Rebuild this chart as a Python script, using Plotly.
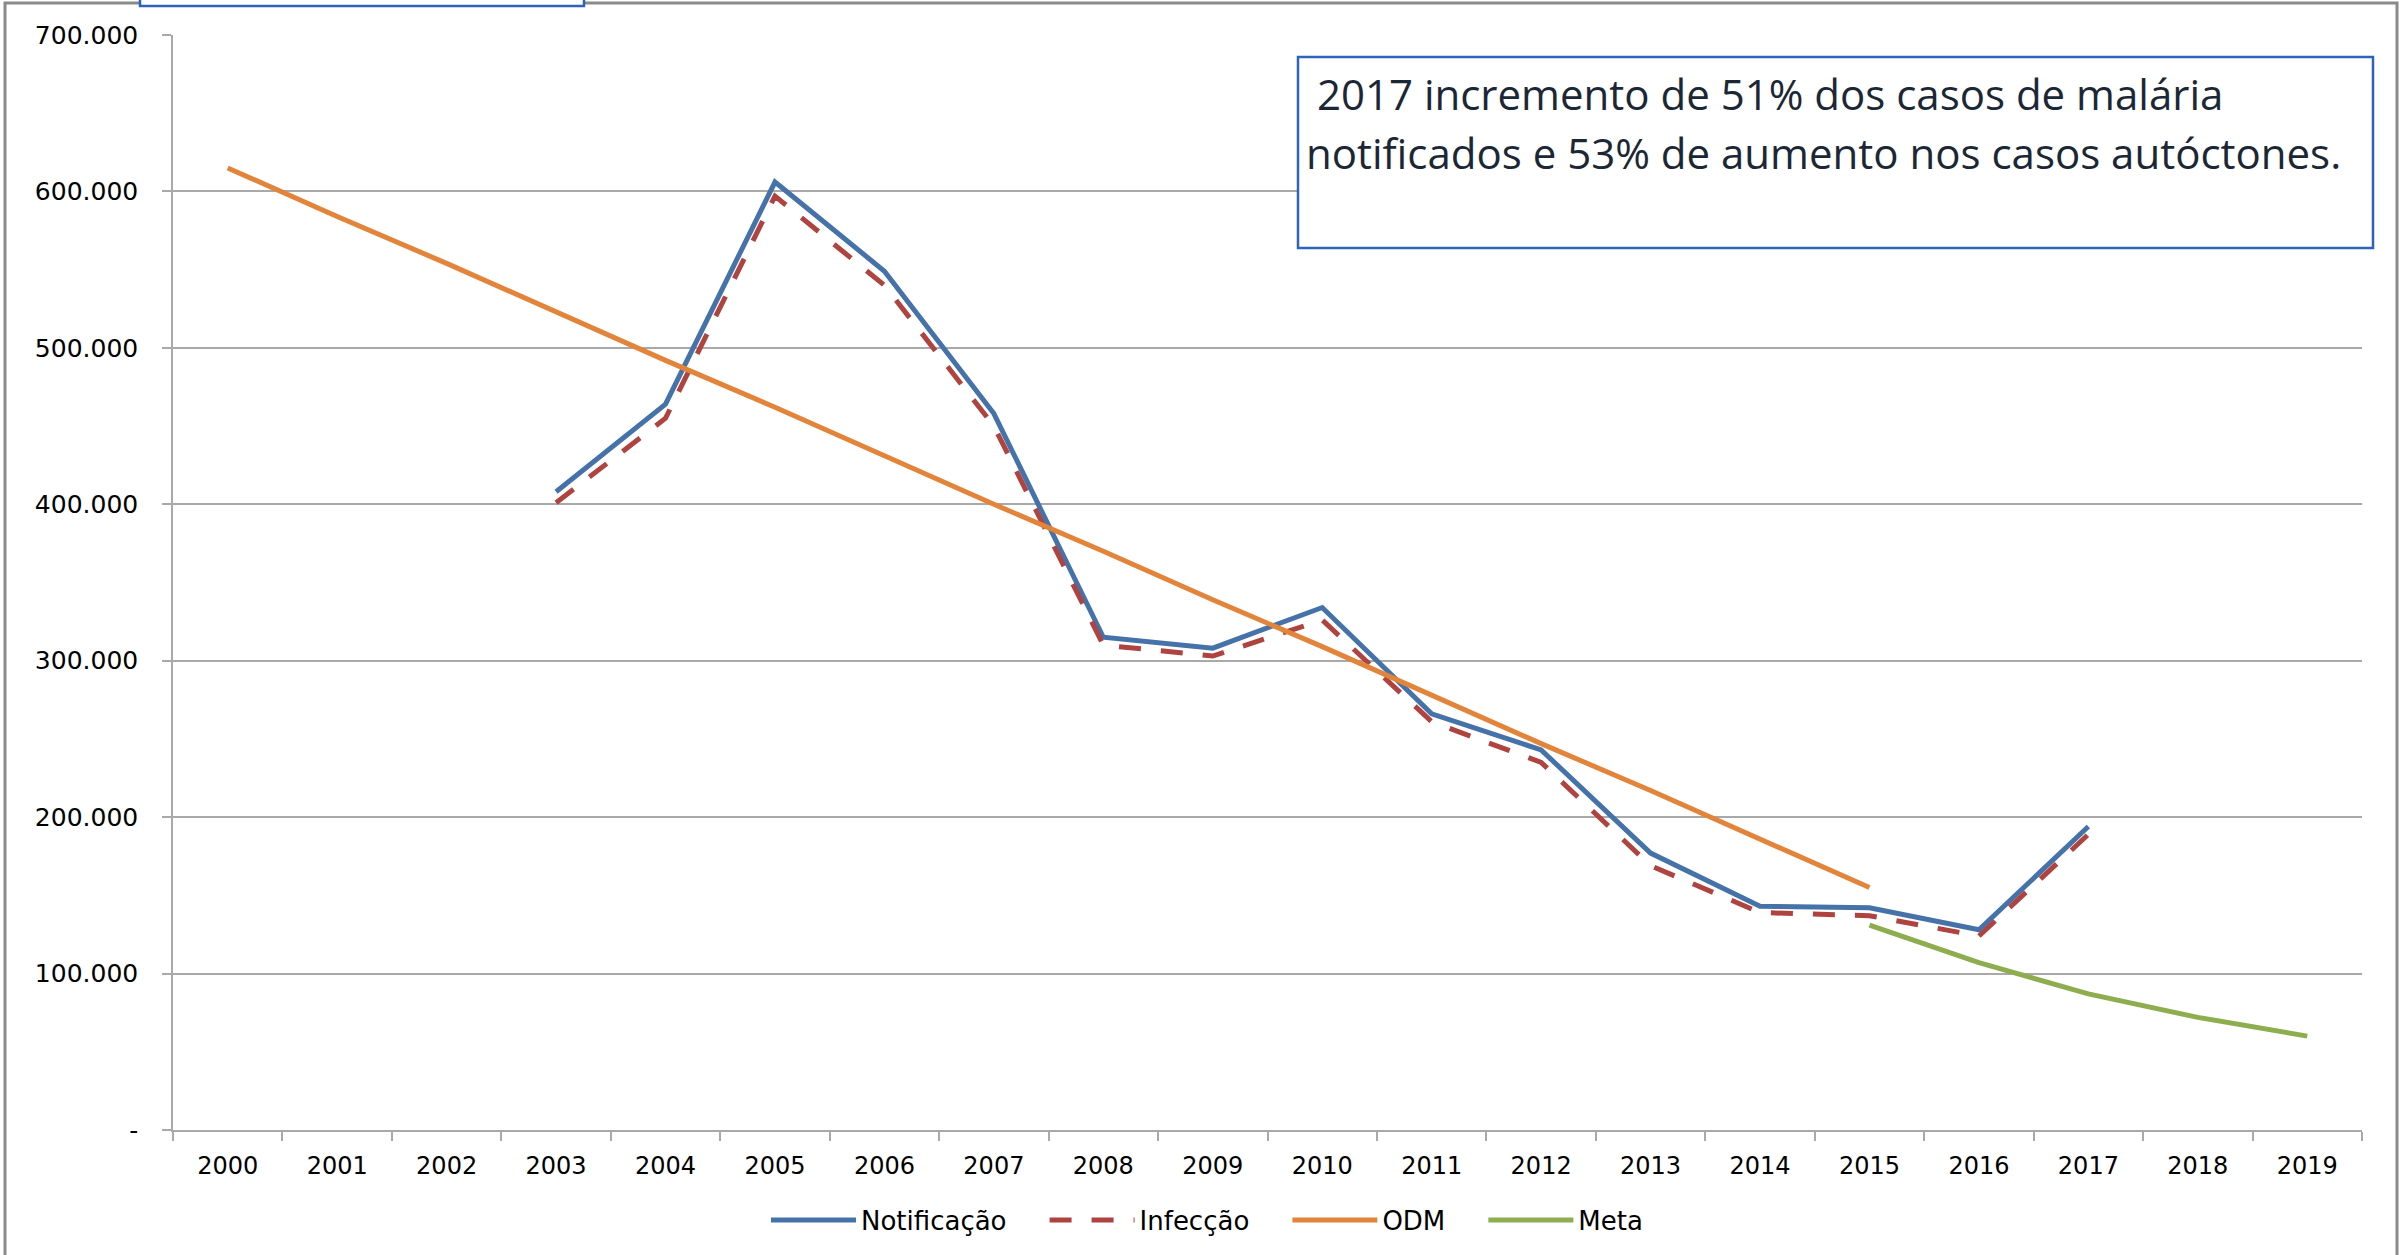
import plotly.graph_objects as go

# ---------------- data ----------------
years = ["2000", "2001", "2002", "2003", "2004", "2005", "2006", "2007", "2008", "2009",
         "2010", "2011", "2012", "2013", "2014", "2015", "2016", "2017", "2018", "2019"]

notificacao = [None, None, None, 408000, 464000, 606000, 549000, 458000, 315000, 308000,
               334000, 266000, 243000, 177000, 143000, 142000, 128000, 194000, None, None]

infeccao = [None, None, None, 401000, 455000, 597000, 540000, 450000, 310000, 303000,
            326000, 261000, 235000, 169000, 139000, 137000, 124000, 189000, None, None]

odm = [615000, 584000, 554000, 523000, 492000, 462000, 431000, 400000, 370000, 339000,
       309000, 278000, 247000, 217000, 186000, 155000, None, None, None, None]

meta = [None, None, None, None, None, None, None, None, None, None,
        None, None, None, None, None, 131000, 107000, 87000, 72000, 60000]

series_names = ["Notificação", "Infecção", "ODM", "Meta"]

y_tickvals = [0, 100000, 200000, 300000, 400000, 500000, 600000, 700000]
y_ticktext = ["-", "100.000", "200.000", "300.000", "400.000", "500.000", "600.000", "700.000"]

note_line1 = " 2017 incremento de 51% dos casos de malária"
note_line2 = "notificados e 53% de aumento nos casos autóctones."

# ---------------- layout geometry (pixels) ----------------
W, H = 2405, 1255
PL, PR, PT, PB = 173, 2362, 35, 1130   # plot area edges


def px_x(x):
    return (x - PL) / (PR - PL)


def px_y(y):
    return (PB - y) / (PB - PT)


BLUE = "#4572A9"
RED = "#AE4340"
ORANGE = "#E3843B"
GREEN = "#8DAD4F"
GRID = "#A9A9A9"
PAD = "\u00a0\u00a0\u00a0\u00a0"

fig = go.Figure()
fig.add_trace(go.Scatter(x=years, y=notificacao, name=series_names[0] + PAD, mode="lines",
                         line=dict(color=BLUE, width=5), connectgaps=False))
fig.add_trace(go.Scatter(x=years, y=infeccao, name=series_names[1] + PAD, mode="lines",
                         line=dict(color=RED, width=5, dash="22px,20px"), connectgaps=False))
fig.add_trace(go.Scatter(x=years, y=odm, name=series_names[2] + PAD, mode="lines",
                         line=dict(color=ORANGE, width=5), connectgaps=False))
fig.add_trace(go.Scatter(x=years, y=meta, name=series_names[3], mode="lines",
                         line=dict(color=GREEN, width=5), connectgaps=False))

fig.update_layout(
    width=W, height=H,
    margin=dict(l=PL, r=W - PR, t=PT, b=H - PB),
    paper_bgcolor="white", plot_bgcolor="white",
    font=dict(family="DejaVu Sans", size=24, color="black"),
    showlegend=True,
    legend=dict(orientation="h", x=px_x(1207), xanchor="center",
                y=px_y(1220), yanchor="middle",
                font=dict(family="DejaVu Sans", size=26, color="black"),
                itemwidth=85, bgcolor="rgba(0,0,0,0)"),
    xaxis=dict(type="category", categoryorder="array", categoryarray=years,
               tickson="boundaries", ticks="outside", ticklen=9, tickwidth=1.5,
               tickcolor=GRID, showline=True, linecolor=GRID, linewidth=1.5,
               showgrid=False, zeroline=False, ticklabelstandoff=13,
               tickfont=dict(family="DejaVu Sans", size=24, color="black"),
               range=[-0.5, 19.5], fixedrange=True),
    yaxis=dict(range=[0, 700000], tickvals=y_tickvals, ticktext=y_ticktext,
               ticks="outside", ticklen=9, tickwidth=1.5, tickcolor=GRID,
               showline=True, linecolor=GRID, linewidth=1.5,
               showgrid=True, gridcolor=GRID, gridwidth=1.5, zeroline=False,
               ticklabelstandoff=19,
               tickfont=dict(family="DejaVu Sans", size=25, color="black"),
               fixedrange=True),
)

shapes = []
# outer chart frame
shapes.append(dict(type="rect", xref="paper", yref="paper",
                   x0=px_x(5), x1=px_x(2397), y0=px_y(1300), y1=px_y(3),
                   line=dict(color="#8A8A8A", width=3), fillcolor="rgba(0,0,0,0)", layer="below"))
# cropped text box at top left
shapes.append(dict(type="rect", xref="paper", yref="paper",
                   x0=px_x(140), x1=px_x(584), y0=px_y(6), y1=px_y(-30),
                   line=dict(color="#2E63BA", width=2.5), fillcolor="white"))
# annotation box
shapes.append(dict(type="rect", xref="paper", yref="paper",
                   x0=px_x(1298), x1=px_x(2373), y0=px_y(248), y1=px_y(57),
                   line=dict(color="#2E63BA", width=2.5), fillcolor="white"))
fig.update_layout(shapes=shapes)

note_font = dict(family="Open Sans", size=42, color="#1C2736")
fig.add_annotation(xref="paper", yref="paper", x=px_x(1304), y=px_y(94),
                   xanchor="left", yanchor="middle", text=note_line1,
                   showarrow=False, font=note_font)
fig.add_annotation(xref="paper", yref="paper", x=px_x(1304), y=px_y(152),
                   xanchor="left", yanchor="middle", text=note_line2,
                   showarrow=False, font=note_font)

fig.write_html("out.html",
               config={"displayModeBar": False},
               post_script="document.body.style.margin='0px';document.body.style.overflow='hidden';")
